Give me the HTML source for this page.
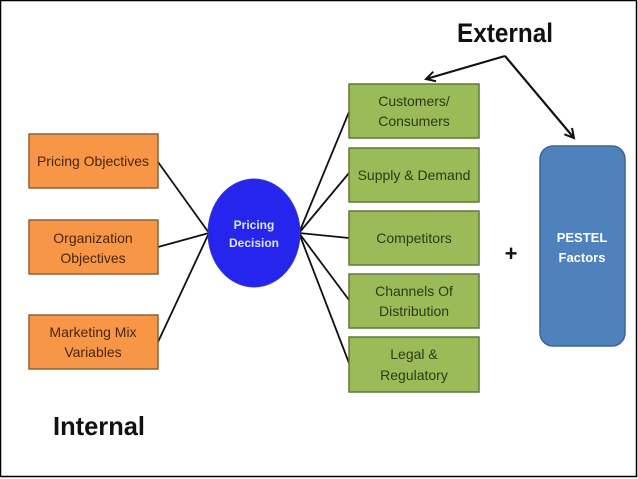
<!DOCTYPE html>
<html><head><meta charset="utf-8"><style>
html,body{margin:0;padding:0;background:#fff}
svg{display:block}
text{font-family:"Liberation Sans Narrow","Liberation Sans",sans-serif}
</style></head><body>
<svg width="638" height="479" viewBox="0 0 638 479" xmlns="http://www.w3.org/2000/svg">
<rect x="0.5" y="0.5" width="636" height="476" fill="#fff" stroke="#000" stroke-width="1.5"/>
<defs><marker id="ah" markerWidth="12" markerHeight="12" refX="10" refY="6" orient="auto" markerUnits="userSpaceOnUse"><path d="M1,1 L10,6 L1,11" fill="none" stroke="#111" stroke-width="2"/></marker></defs>
<g stroke="#111" stroke-width="1.8">
<line x1="158" y1="162" x2="209" y2="233"/>
<line x1="158" y1="247" x2="209" y2="233"/>
<line x1="158" y1="342" x2="209" y2="233"/>
<line x1="299" y1="233" x2="349" y2="112"/>
<line x1="299" y1="233" x2="349" y2="173"/>
<line x1="299" y1="233" x2="349" y2="238"/>
<line x1="299" y1="233" x2="349" y2="300"/>
<line x1="299" y1="233" x2="349" y2="363"/>
</g>
<g stroke="#111" stroke-width="2.2" fill="none">
<polyline points="505,56 426,79" marker-end="url(#ah)"/>
<polyline points="505,56 574,138" marker-end="url(#ah)"/>
</g>
<g fill="#f79646" stroke="#8d6238" stroke-width="1.5">
<rect x="29" y="134" width="129" height="54"/>
<rect x="29" y="220" width="129" height="54"/>
<rect x="29" y="315" width="129" height="54"/>
</g>
<g fill="#9bbb59" stroke="#5f7a3a" stroke-width="1.5">
<rect x="349" y="84" width="130" height="54"/>
<rect x="349" y="148" width="130" height="54"/>
<rect x="349" y="211" width="130" height="54"/>
<rect x="349" y="274" width="130" height="54"/>
<rect x="349" y="337" width="130" height="55"/>
</g>
<ellipse cx="254" cy="233" rx="46" ry="54" fill="#2525ee" stroke="#3a3ac0" stroke-width="1"/>
<rect x="540" y="146" width="85" height="200" rx="13" fill="#4f81bd" stroke="#3a6494" stroke-width="1.5"/>
<g font-size="14" fill="#4a2710" text-anchor="middle">
<text x="93" y="166">Pricing Objectives</text>
<text x="93" y="243">Organization</text>
<text x="93" y="263">Objectives</text>
<text x="93" y="337">Marketing Mix</text>
<text x="93" y="357">Variables</text>
</g>
<g font-size="14" fill="#2c3a18" text-anchor="middle">
<text x="414" y="106">Customers/</text>
<text x="414" y="126">Consumers</text>
<text x="414" y="180">Supply &amp; Demand</text>
<text x="414" y="243">Competitors</text>
<text x="414" y="296">Channels Of</text>
<text x="414" y="316">Distribution</text>
<text x="414" y="359">Legal &amp;</text>
<text x="414" y="380">Regulatory</text>
</g>
<g font-size="12" font-weight="bold" fill="#dfe4ff" text-anchor="middle">
<text x="254" y="229">Pricing</text>
<text x="254" y="247">Decision</text>
</g>
<g font-size="13" font-weight="bold" fill="#fff" text-anchor="middle">
<text x="582" y="242">PESTEL</text>
<text x="582" y="262">Factors</text>
</g>
<text x="511" y="261" font-size="22" font-weight="bold" fill="#111" text-anchor="middle">+</text>
<text x="505" y="42" font-size="27" fill="#111" text-anchor="middle" font-weight="bold" style="font-family:'Liberation Sans',sans-serif" textLength="96" lengthAdjust="spacingAndGlyphs">External</text>
<text x="53" y="435" font-size="26" fill="#111" font-weight="bold" style="font-family:'Liberation Sans',sans-serif" textLength="92" lengthAdjust="spacingAndGlyphs">Internal</text>
</svg>
</body></html>
